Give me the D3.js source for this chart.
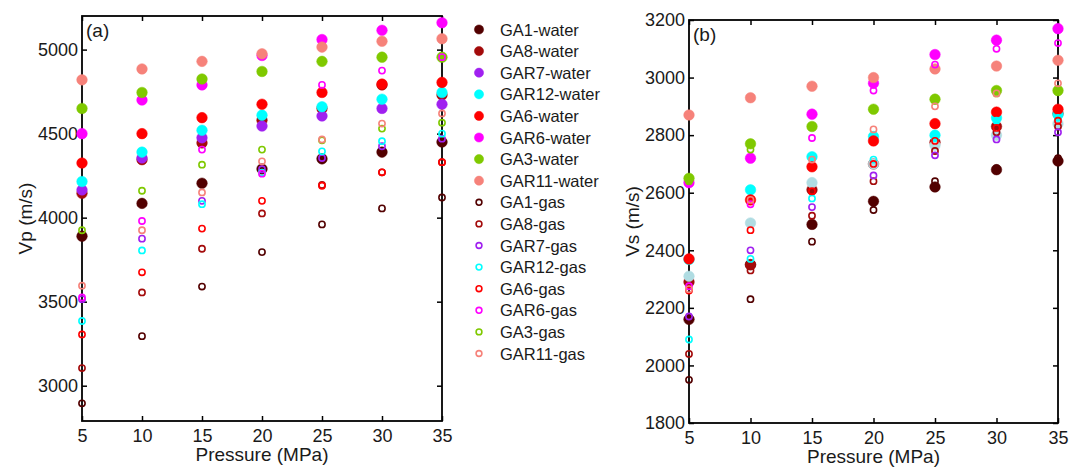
<!DOCTYPE html>
<html>
<head>
<meta charset="utf-8">
<script src="https://cdn.jsdelivr.net/npm/d3@7"></script>
<style>
  html, body { margin: 0; padding: 0; background: #ffffff; }
  svg { display: block; font-family: "Liberation Sans", Arial, sans-serif; }
</style>
</head>
<body>
<svg id="chart" width="1070" height="469"></svg>
<script>
// ---------------- DATA ----------------
const pressures = [5, 10, 15, 20, 25, 30, 35];
const xTicks = [5, 10, 15, 20, 25, 30, 35];
const vpTicks = [3000, 3500, 4000, 4500, 5000];
const vsTicks = [1800, 2000, 2200, 2400, 2600, 2800, 3000, 3200];

const seriesNames = ["GA1-water", "GA8-water", "GAR7-water", "GAR12-water", "GA6-water", "GAR6-water", "GA3-water", "GAR11-water",
                     "GA1-gas", "GA8-gas", "GAR7-gas", "GAR12-gas", "GA6-gas", "GAR6-gas", "GA3-gas", "GAR11-gas"];
const seriesFilled = [true, true, true, true, true, true, true, true,
                      false, false, false, false, false, false, false, false];
const colorsA = ["#520000", "#a30a0a", "#a020f0", "#00ffff", "#ff0000", "#ff00ff", "#7fc900", "#f6827a",
                 "#520000", "#a30a0a", "#a020f0", "#00ffff", "#ff0000", "#ff00ff", "#7fc900", "#f6827a"];
const colorsB = ["#520000", "#a30a0a", "#b0dce2", "#00ffff", "#ff0000", "#ff00ff", "#7fc900", "#f6827a",
                 "#520000", "#a30a0a", "#a020f0", "#00ffff", "#ff0000", "#ff00ff", "#7fc900", "#f6827a"];

// (a) Vp (m/s)
const vpGA1water   = [3890, 4085, 4205, 4290, 4350, 4390, 4450];
const vpGA8water   = [4145, 4345, 4445, 4580, 4650, 4790, 4730];
const vpGAR7water  = [4165, 4355, 4475, 4545, 4605, 4650, 4675];
const vpGAR12water = [4215, 4390, 4520, 4610, 4660, 4705, 4745];
const vpGA6water   = [4325, 4500, 4595, 4675, 4745, 4795, 4805];
const vpGAR6water  = [4500, 4700, 4790, 4965, 5060, 5115, 5160];
const vpGA3water   = [4650, 4745, 4825, 4870, 4930, 4955, 4955];
const vpGAR11water = [4820, 4885, 4930, 4975, 5015, 5050, 5065];
const vpGA1gas     = [2895, 3295, 3590, 3795, 3960, 4055, 4120];
const vpGA8gas     = [3105, 3555, 3815, 4025, 4195, 4270, 4330];
const vpGAR7gas    = [3515, 3875, 4100, 4288, 4355, 4425, 4470];
const vpGAR12gas   = [3385, 3805, 4080, 4268, 4395, 4455, 4500];
const vpGA6gas     = [3305, 3675, 3935, 4100, 4190, 4270, 4330];
const vpGAR6gas    = [3525, 3980, 4405, 4262, 4790, 4875, 4955];
const vpGA3gas     = [3925, 4160, 4315, 4405, 4460, 4530, 4565];
const vpGAR11gas   = [3595, 3925, 4150, 4335, 4465, 4560, 4620];

// (b) Vs (m/s)
const vsGA1water   = [2160, 2350, 2490, 2570, 2620, 2680, 2710];
const vsGA8water   = [2290, 2350, 2610, 2700, 2775, 2830, 2875];
const vsGAR7water  = [2310, 2495, 2635, 2700, 2765, 2800, 2840];
const vsGAR12water = [2368, 2610, 2725, 2795, 2800, 2860, 2872];
const vsGA6water   = [2370, 2575, 2690, 2780, 2840, 2880, 2890];
const vsGAR6water  = [2635, 2720, 2873, 2980, 3080, 3130, 3170];
const vsGA3water   = [2650, 2770, 2830, 2890, 2925, 2955, 2955];
const vsGAR11water = [2870, 2930, 2970, 3000, 3030, 3040, 3060];
const vsGA1gas     = [1950, 2230, 2430, 2540, 2640, 2685, 2720];
const vsGA8gas     = [2040, 2330, 2520, 2640, 2745, 2810, 2830];
const vsGAR7gas    = [2170, 2400, 2550, 2660, 2730, 2785, 2810];
const vsGAR12gas   = [2090, 2370, 2580, 2715, 2790, 2850, 2860];
const vsGA6gas     = [2260, 2470, 2605, 2700, 2780, 2825, 2850];
const vsGAR6gas    = [2275, 2560, 2790, 2955, 3045, 3100, 3120];
const vsGA3gas     = [2640, 2750, 2830, 2890, 2920, 2945, 2950];
const vsGAR11gas   = [2265, 2575, 2715, 2820, 2900, 2945, 2980];

const vpSeries = [vpGA1water, vpGA8water, vpGAR7water, vpGAR12water, vpGA6water, vpGAR6water, vpGA3water, vpGAR11water,
                  vpGA1gas, vpGA8gas, vpGAR7gas, vpGAR12gas, vpGA6gas, vpGAR6gas, vpGA3gas, vpGAR11gas];
const vsSeries = [vsGA1water, vsGA8water, vsGAR7water, vsGAR12water, vsGA6water, vsGAR6water, vsGA3water, vsGAR11water,
                  vsGA1gas, vsGA8gas, vsGAR7gas, vsGAR12gas, vsGA6gas, vsGAR6gas, vsGA3gas, vsGAR11gas];

// ---------------- DRAW ----------------
const svg = d3.select("#chart");
svg.append("rect").attr("width", 1070).attr("height", 469).attr("fill", "#fff");

function panel(opts) {
  const { left, right, top, bottom, yDomain, yTicks, series, colors, ylabel, ylabelX, xlabelY, tag } = opts;
  const x = d3.scaleLinear().domain([5, 35]).range([left, right]);
  const y = d3.scaleLinear().domain(yDomain).range([bottom, top]);
  const g = svg.append("g");

  const styleAxis = (sel, showLabels) => {
    sel.select(".domain").remove();
    sel.selectAll(".tick line").attr("stroke", "#000").attr("stroke-width", 1.5);
    sel.selectAll(".tick text").attr("fill", "#1a1a1a").attr("font-size", 18)
      .style("font-family", "'Liberation Sans', Arial, sans-serif");
    if (!showLabels) sel.selectAll(".tick text").remove();
  };

  g.append("g").attr("transform", `translate(0,${bottom})`)
    .call(d3.axisBottom(x).tickValues(xTicks).tickSize(-5).tickPadding(8).tickFormat(d3.format("d")))
    .call(s => styleAxis(s, true));
  g.append("g").attr("transform", `translate(0,${top})`)
    .call(d3.axisTop(x).tickValues(xTicks).tickSize(-5))
    .call(s => styleAxis(s, false));
  g.append("g").attr("transform", `translate(${left},0)`)
    .call(d3.axisLeft(y).tickValues(yTicks).tickSize(-5).tickPadding(4).tickFormat(d3.format("d")))
    .call(s => styleAxis(s, true));
  g.append("g").attr("transform", `translate(${right},0)`)
    .call(d3.axisRight(y).tickValues(yTicks).tickSize(-5))
    .call(s => styleAxis(s, false));

  g.append("rect").attr("x", left).attr("y", top)
    .attr("width", right - left).attr("height", bottom - top)
    .attr("fill", "none").attr("stroke", "#000").attr("stroke-width", 1.8);

  // markers
  series.forEach((vals, i) => {
    const filled = seriesFilled[i];
    g.append("g").selectAll("circle").data(vals).join("circle")
      .attr("cx", (d, j) => x(pressures[j]))
      .attr("cy", d => y(d))
      .attr("r", filled ? 5.3 : 3.1)
      .attr("fill", filled ? colors[i] : "none")
      .attr("stroke", colors[i])
      .attr("stroke-width", filled ? 0.5 : 1.6);
  });

  // labels
  g.append("text").attr("x", (left + right) / 2).attr("y", xlabelY)
    .attr("text-anchor", "middle").attr("font-size", 19).attr("fill", "#1a1a1a")
    .text("Pressure (MPa)");
  g.append("text").attr("transform", `translate(${ylabelX},${(top + bottom) / 2}) rotate(-90)`)
    .attr("text-anchor", "middle").attr("font-size", 19).attr("fill", "#1a1a1a")
    .text(ylabel);
  g.append("text").attr("x", left + 4).attr("y", top + 21)
    .attr("font-size", 19).attr("fill", "#1a1a1a").text(tag);
}

panel({ left: 82, right: 442, top: 16, bottom: 421, yDomain: [2790, 5200], yTicks: vpTicks,
        series: vpSeries, colors: colorsA, ylabel: "Vp (m/s)", ylabelX: 32, xlabelY: 461, tag: "(a)" });
panel({ left: 689, right: 1058, top: 20, bottom: 423, yDomain: [1800, 3200], yTicks: vsTicks,
        series: vsSeries, colors: colorsB, ylabel: "Vs (m/s)", ylabelX: 639, xlabelY: 463, tag: "(b)" });

// legend
const leg = svg.append("g");
seriesNames.forEach((name, i) => {
  const cy = 29.5 + i * 21.6;
  const filled = seriesFilled[i];
  leg.append("circle").attr("cx", 479).attr("cy", cy)
    .attr("r", filled ? 4.6 : 2.9)
    .attr("fill", filled ? colorsA[i] : "none")
    .attr("stroke", colorsA[i]).attr("stroke-width", filled ? 0.5 : 1.6);
  leg.append("text").attr("x", 500).attr("y", cy + 6)
    .attr("font-size", 16.5).attr("fill", "#1a1a1a").text(name);
});
</script>
</body>
</html>
